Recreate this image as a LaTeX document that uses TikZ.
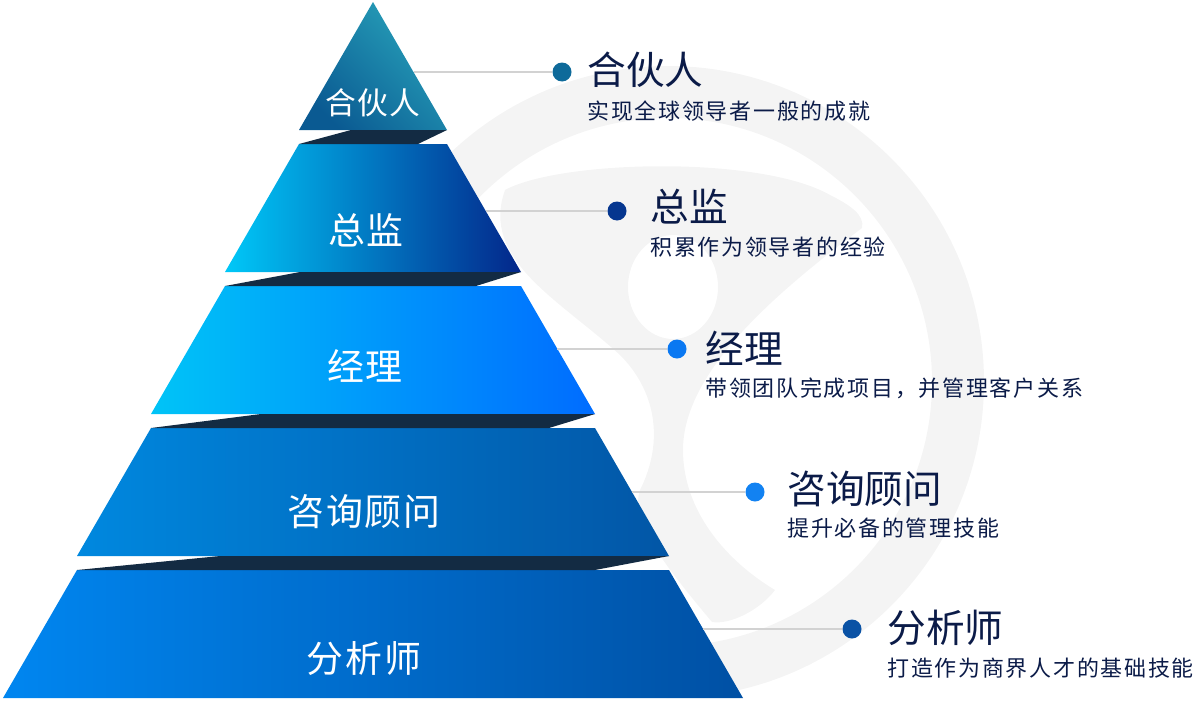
\documentclass[tikz,border=0pt]{standalone}
\usepackage{fontspec}
\setmainfont{Noto Sans CJK SC}
\usetikzlibrary{positioning,calc}
%==colours
\definecolor{tOneA}{HTML}{0A5A92}
\definecolor{tOneB}{HTML}{28A2BA}
\definecolor{tTwoA}{HTML}{00C8F8}
\definecolor{tTwoB}{HTML}{03268A}
\definecolor{tThreeA}{HTML}{00C4F7}
\definecolor{tThreeB}{HTML}{006CFF}
\definecolor{tFourA}{HTML}{0088DF}
\definecolor{tFourB}{HTML}{0256A6}
\definecolor{tFiveA}{HTML}{0086F0}
\definecolor{tFiveB}{HTML}{0050A4}
\definecolor{bandc}{HTML}{132B43}
\definecolor{ink}{HTML}{0B1B48}
\definecolor{wm}{HTML}{F4F4F4}
\definecolor{linkc}{HTML}{D2D2D2}
\definecolor{dot1}{HTML}{0E6A9A}
\definecolor{dot2}{HTML}{05368F}
\definecolor{dot3}{HTML}{0A78F2}
\definecolor{dot4}{HTML}{1282F2}
\definecolor{dot5}{HTML}{0A52A5}
\tikzset{
  tier1/.style={top color=tOneB,bottom color=tOneA,shading angle=-45},
  tier2/.style={left color=tTwoA,right color=tTwoB},
  tier3/.style={left color=tThreeA,right color=tThreeB},
  tier4/.style={left color=tFourA,right color=tFourB},
  tier5/.style={left color=tFiveA,right color=tFiveB},
  band/.style={fill=bandc},
  lab/.style={text=white,inner sep=0pt,font=\fontsize{21}{24}\selectfont\addfontfeature{LetterSpace=5}},
  labtop/.style={lab,font=\fontsize{17.5}{20}\selectfont\addfontfeature{LetterSpace=5}},
  dotc/.style={circle,inner sep=0pt,minimum size=0.38cm},
  link/.style={linkc,line width=0.7pt},
  ttl/.style={anchor=west,inner sep=0pt,text=ink,font=\fontsize{22}{26}\selectfont},
  sub/.style={anchor=west,inner sep=0pt,text=ink,font=\fontsize{12.5}{15}\selectfont\addfontfeature{LetterSpace=8}}
}
\begin{document}
\begin{tikzpicture}[x=0.02cm,y=-0.02cm,line join=round]
	%==pyramid parameters
	\def\cx{373}
	\def\h{128}
	\def\st{142}
	\def\w{74}
	%==============
	\useasboundingbox (0,0) rectangle (1200,700);
	%==watermark
	\fill[wm,even odd rule] (668,382) circle[radius=316] (668,382) circle[radius=264];
	\fill[wm,even odd rule] (505,190) .. controls (560,160) and (760,155) .. (830,195)
	.. controls (850,205) and (865,215) .. (862,228)
	.. controls (780,290) and (683,370) .. (683,450)
	.. controls (683,510) and (725,560) .. (775,590)
	.. controls (760,610) and (730,625) .. (712,622)
	.. controls (660,560) and (630,520) .. (640,490)
	.. controls (665,440) and (655,390) .. (620,355)
	.. controls (560,300) and (480,260) .. (505,190) -- cycle
	(673,287) ellipse[x radius=45,y radius=52];
	%==tiers
	\foreach \i in {1,...,5}
	\shade[tier\i] (\cx-\w*\i+\w,\st*\i-\st+2)--(\cx+\w*\i-\w,\st*\i-\st+2)
	--(\cx+\w*\i,\st*\i-\st+2+\h)--(\cx-\w*\i,\st*\i-\st+2+\h)--cycle;
	\foreach \i/\l/\r in {2/52/29,3/75/45,4/110/46,5/143/74}
	\fill[band] (\cx-\w*\i+\w,\st*\i-\st+2)--(\cx-\w*\i+\w+\l,\st*\i-2*\st+2+\h)
	--(\cx+\w*\i-\w,\st*\i-2*\st+2+\h)--(\cx+\w*\i-\w-\r,\st*\i-\st+2)--cycle;
	\node[labtop] (lab1) at (373,103) {合伙人};
	\node[lab] (lab2) at (366,230) {总监};
	\node[lab] (lab3) at (365,366) {经理};
	\node[lab] (lab4) at (364,512) {咨询顾问};
	\node[lab] (lab5) at (364,659) {分析师};
	%==legend
	\foreach \i/\ex/\y/\dx/\tx/\ty/\sy/\ti/\su in {
		1/414/72/562/587/70/111/合伙人/实现全球领导者一般的成就,
		2/486/211/617/650/207/247/总监/积累作为领导者的经验,
		3/557/349/677/705/348/388/经理/带领团队完成项目，并管理客户关系,
		4/632/492/755/787/489/528/咨询顾问/提升必备的管理技能,
		5/703/629/852/887/628/668/分析师/打造作为商界人才的基础技能}{
		\coordinate (e\i) at (\ex,\y);
		\node[dotc,fill=dot\i] (dot\i) at (\dx,\y) {};
		\draw[link] (e\i)--(dot\i);
		\node[ttl] (ttl\i) at (\tx,\ty) {\ti};
		\node[sub] (sub\i) at (\tx,\sy) {\su};
	}
\end{tikzpicture}
\end{document}
